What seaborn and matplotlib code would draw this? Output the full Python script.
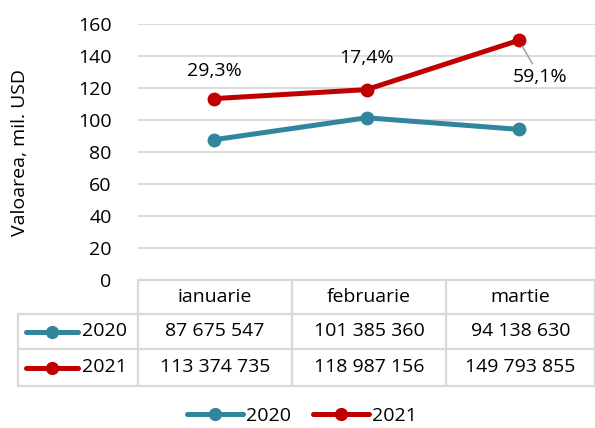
import matplotlib
matplotlib.use("Agg")
import matplotlib.pyplot as plt
import seaborn as sns
import pandas as pd
from matplotlib.lines import Line2D

months = ["ianuarie", "februarie", "martie"]
values_2020 = [87675547, 101385360, 94138630]
values_2021 = [113374735, 118987156, 149793855]
growth_labels = ["29,3%", "17,4%", "59,1%"]
y_ticks = [0, 20, 40, 60, 80, 100, 120, 140, 160]

C2020 = "#31859C"
C2021 = "#C00000"
GRID = "#D9D9D9"

sns.set_theme(style="white")
plt.rcParams["font.family"] = ["Open Sans", "DejaVu Sans"]
plt.rcParams["text.color"] = "#000000"
plt.rcParams["ytick.color"] = "#000000"
plt.rcParams["axes.labelcolor"] = "#000000"

W, H = 595, 428
fig = plt.figure(figsize=(W / 100, H / 100), dpi=100)

def fx(px):
    return px / W

def fy(py):
    return 1 - py / H

# main plot area
left_px, right_px, top_px, bottom_px = 138, 595, 24, 280
ax = fig.add_axes([fx(left_px), fy(bottom_px), fx(right_px - left_px), fy(top_px) - fy(bottom_px)])

df = pd.DataFrame({
    "month": list(range(3)) * 2,
    "value": [v / 1e6 for v in values_2020] + [v / 1e6 for v in values_2021],
    "year": ["2020"] * 3 + ["2021"] * 3,
})

sns.lineplot(data=df, x="month", y="value", hue="year",
             palette={"2020": C2020, "2021": C2021},
             marker="o", markersize=10, linewidth=3.6,
             markeredgewidth=0, ax=ax, legend=False)

ax.set_xlim(-0.5, 2.5)
ax.set_ylim(0, 160)
ax.set_yticks(y_ticks)
ax.set_yticklabels([str(t) for t in y_ticks], fontsize=14, color="black")
ax.set_xticks([])
ax.set_xlabel("")
ax.set_ylabel("Valoarea, mil. USD", fontsize=14, color="black")
ax.yaxis.set_label_coords(-0.238, 0.5)
ax.tick_params(axis="y", length=0, pad=19)
for s in ax.spines.values():
    s.set_visible(False)
ax.grid(axis="y", color=GRID, linewidth=1.3)
ax.set_axisbelow(True)

# growth labels above the 2021 series
v21 = [v / 1e6 for v in values_2021]
ax.text(0, v21[0] + 17, growth_labels[0], ha="center", va="center", fontsize=14)
ax.text(1, v21[1] + 20, growth_labels[1], ha="center", va="center", fontsize=14)
ax.annotate(growth_labels[2], xy=(2, v21[2]), xytext=(2.14, v21[2] - 23),
            ha="center", va="center", fontsize=14,
            arrowprops=dict(arrowstyle="-", color="#A6A6A6", lw=1.2,
                            shrinkA=1, shrinkB=5))

# data table beneath the plot
tab = fig.add_axes([0, 0, 1, 1], facecolor="none")
tab.set_xlim(0, W)
tab.set_ylim(H, 0)
tab.axis("off")

col_x = [18, 138, 292, 446, 595]
row_y = [280, 314, 349, 386]
lw = 1.6
# horizontal rules
tab.plot([138, 595], [row_y[0], row_y[0]], color=GRID, lw=lw)
for y in row_y[1:]:
    tab.plot([18, 595], [y, y], color=GRID, lw=lw)
# vertical rules
tab.plot([18, 18], [row_y[1], row_y[3]], color=GRID, lw=lw)
for x in col_x[1:]:
    tab.plot([x, x], [row_y[0], row_y[3]], color=GRID, lw=lw)

centers = [(col_x[i + 1] + col_x[i + 2]) / 2 for i in range(3)]
for cx, m in zip(centers, months):
    tab.text(cx, (row_y[0] + row_y[1]) / 2, m, ha="center", va="center", fontsize=14)

def fmt(v):
    return f"{v:,}".replace(",", " ")

rows = [("2020", values_2020, C2020), ("2021", values_2021, C2021)]
for r, (name, vals, col) in enumerate(rows):
    yc = (row_y[r + 1] + row_y[r + 2]) / 2
    tab.plot([26, 78], [yc, yc], color=col, lw=3.6, solid_capstyle="round")
    tab.plot([52], [yc], marker="o", color=col, markersize=8.5)
    tab.text(82, yc, name, ha="left", va="center", fontsize=14)
    for cx, v in zip(centers, vals):
        tab.text(cx, yc, fmt(v), ha="center", va="center", fontsize=14)

# legend below the table
handles = [Line2D([0], [0], color=C2020, lw=3.6, marker="o", markersize=8.5),
           Line2D([0], [0], color=C2021, lw=3.6, marker="o", markersize=8.5)]
fig.legend(handles, ["2020", "2021"], loc="center", bbox_to_anchor=(fx(302), fy(416)),
           ncol=2, frameon=False, fontsize=14, handlelength=2.9,
           handletextpad=0.15, columnspacing=1.1)

fig.savefig("out.png", dpi=100)
